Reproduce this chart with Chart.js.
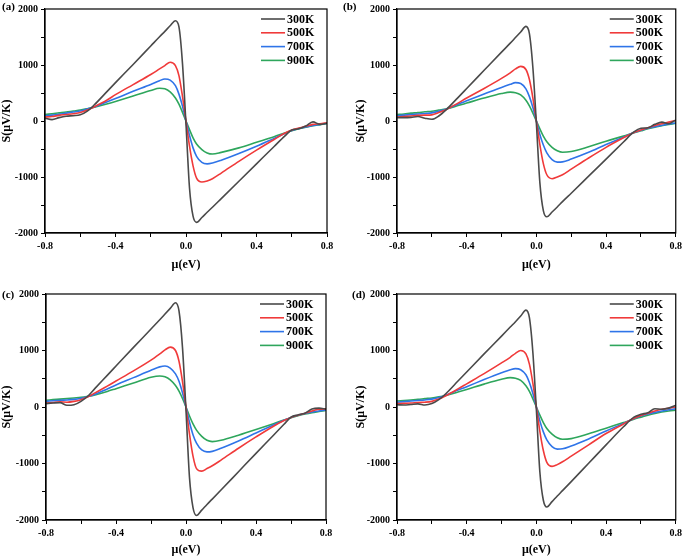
<!DOCTYPE html>
<html>
<head>
<meta charset="utf-8">
<script src="https://cdn.jsdelivr.net/npm/chart.js@4.4.1/dist/chart.umd.min.js"></script>
<style>
    body { margin: 0; background: #fff; }
    #wrap { position: relative; width: 685px; height: 558px; overflow: hidden; }
    canvas { position: absolute; }
    .tag { position: absolute; font: bold 11px "Liberation Serif", serif; color: #000; }
</style>
</head>
<body>
<div id="wrap">
    <canvas id="pa" width="340" height="280" style="left:0;top:0"></canvas>
    <canvas id="pb" width="335" height="280" style="left:350px;top:0"></canvas>
    <canvas id="pc" width="340" height="278" style="left:0;top:280px"></canvas>
    <canvas id="pd" width="335" height="278" style="left:350px;top:280px"></canvas>
    <div class="tag" style="left:2px;top:0">(a)</div>
    <div class="tag" style="left:343px;top:0">(b)</div>
    <div class="tag" style="left:2px;top:288px">(c)</div>
    <div class="tag" style="left:352px;top:288px">(d)</div>
</div>
<script>
// chemical potential grid (eV)
const MU = [-0.8, -0.76, -0.72, -0.68, -0.64, -0.6, -0.56, -0.52, -0.45, -0.4, -0.3, -0.2, -0.15, -0.12, -0.09, -0.06, -0.04, -0.02,
            0, 0.02, 0.04, 0.06, 0.09, 0.12, 0.15, 0.2, 0.3, 0.4, 0.5, 0.56, 0.6, 0.64, 0.68, 0.72, 0.76, 0.8];

const TEMPS = ['300K', '500K', '700K', '900K'];

// Seebeck coefficient S (uV/K), panel (a)
const A300 = [50, 25, 60, 85, 95, 110, 175, 290, 520, 685, 1010, 1340, 1505, 1600, 1700, 1790, 1680, 1030,
              -60, -1200, -1700, -1810, -1723, -1630, -1540, -1385, -1075, -765, -455, -270, -160, -140, -90, -15, -60, -40];
const A500 = [70, 80, 100, 115, 130, 150, 195, 255, 370, 470, 650, 830, 930, 990, 1050, 990, 810, 440,
              0, -450, -800, -1020, -1090, -1070, -1030, -930, -720, -520, -330, -220, -160, -125, -95, -60, -50, -30];
const A700 = [95, 105, 120, 140, 160, 180, 215, 250, 340, 400, 530, 650, 720, 750, 730, 630, 480, 265,
              0, -260, -480, -630, -740, -765, -750, -700, -580, -450, -310, -225, -170, -135, -105, -80, -60, -40];
const A900 = [115, 130, 145, 160, 178, 195, 220, 248, 305, 350, 445, 545, 585, 575, 520, 410, 300, 155,
              0, -155, -300, -410, -510, -570, -590, -560, -480, -380, -280, -215, -175, -140, -110, -85, -65, -45];

// panel (b)
const B300 = [60, 60, 65, 80, 50, 30, 90, 195, 418, 580, 905, 1230, 1390, 1490, 1590, 1690, 1560, 950,
              -40, -1100, -1600, -1710, -1625, -1535, -1440, -1290, -985, -680, -375, -195, -130, -120, -60, -20, -50, 20];
const B500 = [70, 80, 90, 100, 105, 110, 150, 200, 320, 410, 580, 760, 860, 930, 975, 920, 740, 410,
              0, -420, -760, -960, -1030, -1000, -960, -860, -660, -470, -300, -205, -160, -120, -80, -50, -20, 10];
const B700 = [95, 105, 115, 125, 135, 145, 175, 210, 300, 360, 480, 600, 655, 685, 670, 575, 435, 240,
              0, -240, -430, -570, -690, -735, -730, -680, -560, -420, -290, -205, -165, -130, -100, -75, -55, -35];
const B900 = [115, 125, 140, 150, 165, 175, 195, 215, 275, 320, 410, 490, 515, 505, 465, 370, 270, 140,
              0, -140, -270, -370, -470, -530, -558, -545, -460, -360, -270, -210, -175, -140, -110, -85, -60, -40];

// panel (c)
const C300 = [60, 70, 78, 30, 40, 100, 195, 330, 560, 725, 1055, 1380, 1545, 1645, 1745, 1845, 1700, 1050,
              -60, -1250, -1780, -1920, -1825, -1725, -1630, -1470, -1145, -820, -500, -305, -180, -140, -110, -35, -20, -40];
const C500 = [70, 80, 90, 85, 100, 130, 180, 250, 370, 460, 640, 830, 940, 1010, 1060, 1000, 810, 450,
              0, -480, -870, -1090, -1135, -1090, -1040, -940, -730, -530, -340, -240, -185, -145, -110, -70, -40, -30];
const C700 = [100, 110, 120, 125, 135, 155, 185, 225, 320, 390, 520, 650, 710, 725, 690, 585, 455, 250,
              0, -270, -490, -640, -760, -795, -785, -730, -600, -460, -320, -235, -185, -145, -115, -90, -70, -50];
const C900 = [120, 130, 140, 150, 160, 170, 190, 215, 275, 325, 425, 525, 550, 535, 480, 380, 280, 150,
              0, -160, -300, -410, -520, -590, -612, -590, -500, -400, -295, -230, -190, -155, -125, -100, -80, -60];

// panel (d)
const D300 = [40, 35, 45, 55, 35, 60, 130, 235, 460, 620, 940, 1255, 1415, 1510, 1610, 1715, 1580, 960,
              -50, -1150, -1650, -1770, -1675, -1575, -1480, -1320, -995, -670, -350, -180, -130, -100, -30, -40, -20, 30];
const D500 = [60, 65, 70, 80, 85, 100, 140, 200, 320, 410, 590, 780, 880, 950, 1000, 940, 760, 420,
              0, -430, -770, -980, -1050, -1020, -970, -870, -670, -470, -300, -200, -150, -110, -70, -40, -20, 0];
const D700 = [85, 95, 105, 115, 125, 140, 170, 210, 300, 360, 485, 605, 660, 680, 660, 570, 435, 240,
              0, -245, -440, -580, -700, -745, -740, -690, -565, -425, -290, -205, -160, -125, -95, -70, -50, -30];
const D900 = [105, 115, 125, 135, 148, 160, 180, 205, 265, 310, 405, 490, 520, 510, 470, 375, 275, 145,
              0, -145, -275, -380, -480, -545, -572, -560, -475, -375, -275, -215, -180, -145, -115, -90, -70, -55];

const COLORS = ['#4a4a4a', '#f03a3a', '#2f74e8', '#2ea65c'];
const SERIF = '"Liberation Serif", "Times New Roman", serif';

// frame round the plot and the legend inside the top right corner
const framePlugin = {
    id: 'frame',
    afterDraw(chart) {
        const { ctx, chartArea: a } = chart;
        ctx.save();
        ctx.strokeStyle = '#000';
        ctx.lineWidth = 1.2;
        ctx.strokeRect(a.left, a.top, a.right - a.left, a.bottom - a.top);

        ctx.font = 'bold 12px ' + SERIF;
        ctx.textBaseline = 'middle';
        ctx.textAlign = 'left';
        chart.data.datasets.forEach((ds, i) => {
            const y = a.top + 10 + i * 13.8;
            ctx.strokeStyle = ds.borderColor;
            ctx.lineWidth = 1.6;
            ctx.beginPath();
            ctx.moveTo(a.right - 66, y);
            ctx.lineTo(a.right - 42, y);
            ctx.stroke();
            ctx.fillStyle = '#000';
            ctx.fillText(ds.label, a.right - 40, y + 0.5);
        });
        ctx.restore();
    }
};

function makePanel(id, series, box) {
    const ctx = document.getElementById(id).getContext('2d');
    const datasets = series.map((vals, i) => ({
        label: TEMPS[i],
        data: vals.map((v, k) => ({ x: MU[k], y: v })),
        borderColor: COLORS[i],
        borderWidth: 1.6,
        pointRadius: 0,
        cubicInterpolationMode: 'monotone',
        fill: false
    }));

    new Chart(ctx, {
        type: 'line',
        data: { datasets: datasets },
        options: {
            responsive: false,
            animation: false,
            layout: { padding: { top: box.padTop, right: box.padRight, left: 0, bottom: 0 } },
            plugins: { legend: { display: false }, tooltip: { enabled: false } },
            scales: {
                x: {
                    type: 'linear',
                    min: -0.8,
                    max: 0.8,
                    afterFit: s => { s.height = box.xH; },
                    border: { display: true, color: '#000', width: 1.2 },
                    grid: { drawOnChartArea: false, drawTicks: true, tickLength: 4, color: '#000' },
                    ticks: {
                        stepSize: 0.2,
                        autoSkip: false,
                        maxRotation: 0,
                        color: '#000',
                        padding: 3,
                        font: { family: SERIF, size: 10, weight: 'bold' },
                        callback: v => (Math.round(v * 10) % 4 === 0 ? v.toFixed(1) : '')
                    },
                    title: {
                        display: true,
                        text: 'μ(eV)',
                        color: '#000',
                        padding: { top: 0, bottom: box.xTitlePad },
                        font: { family: SERIF, size: 12, weight: 'bold', lineHeight: 1.2 }
                    }
                },
                y: {
                    min: -2000,
                    max: 2000,
                    afterFit: s => { s.width = box.yW; },
                    border: { display: true, color: '#000', width: 1.2 },
                    grid: { drawOnChartArea: false, drawTicks: true, tickLength: 4, color: '#000' },
                    ticks: {
                        stepSize: 500,
                        autoSkip: false,
                        color: '#000',
                        padding: 3,
                        font: { family: SERIF, size: 10, weight: 'bold' },
                        callback: v => (v % 1000 === 0 ? String(v) : '')
                    },
                    title: {
                        display: true,
                        text: 'S(μV/K)',
                        color: '#000',
                        padding: { top: box.yTitlePad, bottom: 0 },
                        font: { family: SERIF, size: 12, weight: 'bold', lineHeight: 1.2 }
                    }
                }
            }
        },
        plugins: [framePlugin]
    });
}

document.addEventListener('DOMContentLoaded', function() {
    makePanel('pa', [A300, A500, A700, A900], { padTop: 7, padRight: 13, xH: 47, yW: 45, xTitlePad: 8, yTitlePad: 0 });
    makePanel('pb', [B300, B500, B700, B900], { padTop: 7, padRight: 7, xH: 47, yW: 47, xTitlePad: 8, yTitlePad: 4 });
    makePanel('pc', [C300, C500, C700, C900], { padTop: 14, padRight: 14, xH: 38, yW: 46, xTitlePad: 1, yTitlePad: 0 });
    makePanel('pd', [D300, D500, D700, D900], { padTop: 14, padRight: 7, xH: 38, yW: 47, xTitlePad: 1, yTitlePad: 4 });
});
</script>
</body>
</html>
